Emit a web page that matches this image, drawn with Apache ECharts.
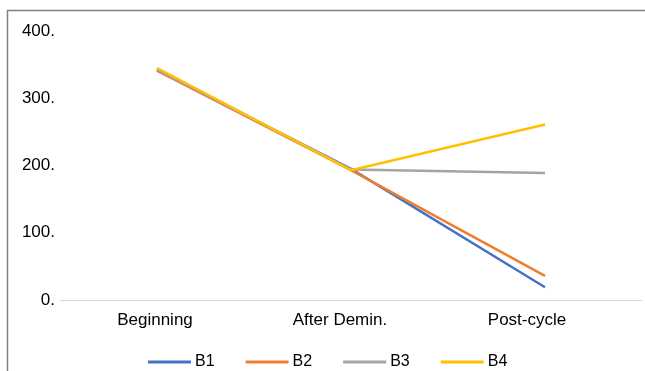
<!DOCTYPE html>
<html>
<head>
<meta charset="utf-8">
<script src="https://cdn.jsdelivr.net/npm/echarts@6/dist/echarts.min.js"></script>
<style>
  html, body { margin: 0; padding: 0; background: #fff; }
  #chart { width: 645px; height: 371px; }
</style>
</head>
<body>
<div id="chart"></div>
<script>
// Stages along the x axis
const stages = ['Beginning', 'After Demin.', 'Post-cycle'];

// Values per sample
const b1 = [342, 195, 19];
const b2 = [341, 193, 36];
const b3 = [343, 194, 189];
const b4 = [345, 193, 261];

const seriesNames = ['B1', 'B2', 'B3', 'B4'];
const seriesValues = [b1, b2, b3, b4];
const seriesColors = ['#4472C4', '#ED7D31', '#A5A5A5', '#FFC000'];

// Y axis ticks
const yMin = 0;
const yMax = 400;
const yStep = 100;

const font = 'Liberation Sans, Arial, sans-serif';

// Category labels sit a little left of their points; right padding nudges each one
const labelShift = [4, 22, 36];
const labelRich = {};
stages.forEach((s, i) => {
  labelRich['c' + i] = { fontFamily: font, fontSize: 17, color: '#000', padding: [0, labelShift[i], 0, 0] };
});

const chart = echarts.init(document.getElementById('chart'), null, { renderer: 'canvas' });

chart.setOption({
  backgroundColor: '#fff',
  animation: false,
  graphic: [{
    type: 'rect',
    shape: { x: 7.5, y: 10.5, width: 700, height: 400 },
    style: { fill: 'none', stroke: '#7f7f7f', lineWidth: 1.5 },
    silent: true,
    z: 100
  }],
  grid: { left: 60, right: 3, top: 31, bottom: 71, containLabel: false },
  legend: {
    data: seriesNames.map(n => ({ name: n, icon: 'rect' })),
    top: 349,
    left: 143,
    itemWidth: 43,
    itemHeight: 3,
    itemGap: 31,
    textStyle: { fontFamily: font, fontSize: 16, color: '#000', padding: [0, 0, 0, -1] }
  },
  xAxis: {
    type: 'category',
    data: stages,
    boundaryGap: true,
    axisLine: { show: true, lineStyle: { color: '#d9d9d9', width: 1 } },
    axisTick: { show: false },
    axisLabel: {
      fontFamily: font, fontSize: 17, color: '#000', margin: 12,
      formatter: (v, i) => '{c' + i + '|' + v + '}',
      rich: labelRich
    }
  },
  yAxis: {
    type: 'value',
    min: yMin,
    max: yMax,
    interval: yStep,
    axisLine: { show: false },
    axisTick: { show: false },
    splitLine: { show: false },
    axisLabel: {
      fontFamily: font, fontSize: 17, color: '#000', margin: 5,
      formatter: v => v + '.'
    }
  },
  series: seriesNames.map((name, i) => ({
    name: name,
    type: 'line',
    data: seriesValues[i],
    symbol: 'none',
    lineStyle: { color: seriesColors[i], width: 2.5 },
    itemStyle: { color: seriesColors[i] }
  }))
});
</script>
</body>
</html>
